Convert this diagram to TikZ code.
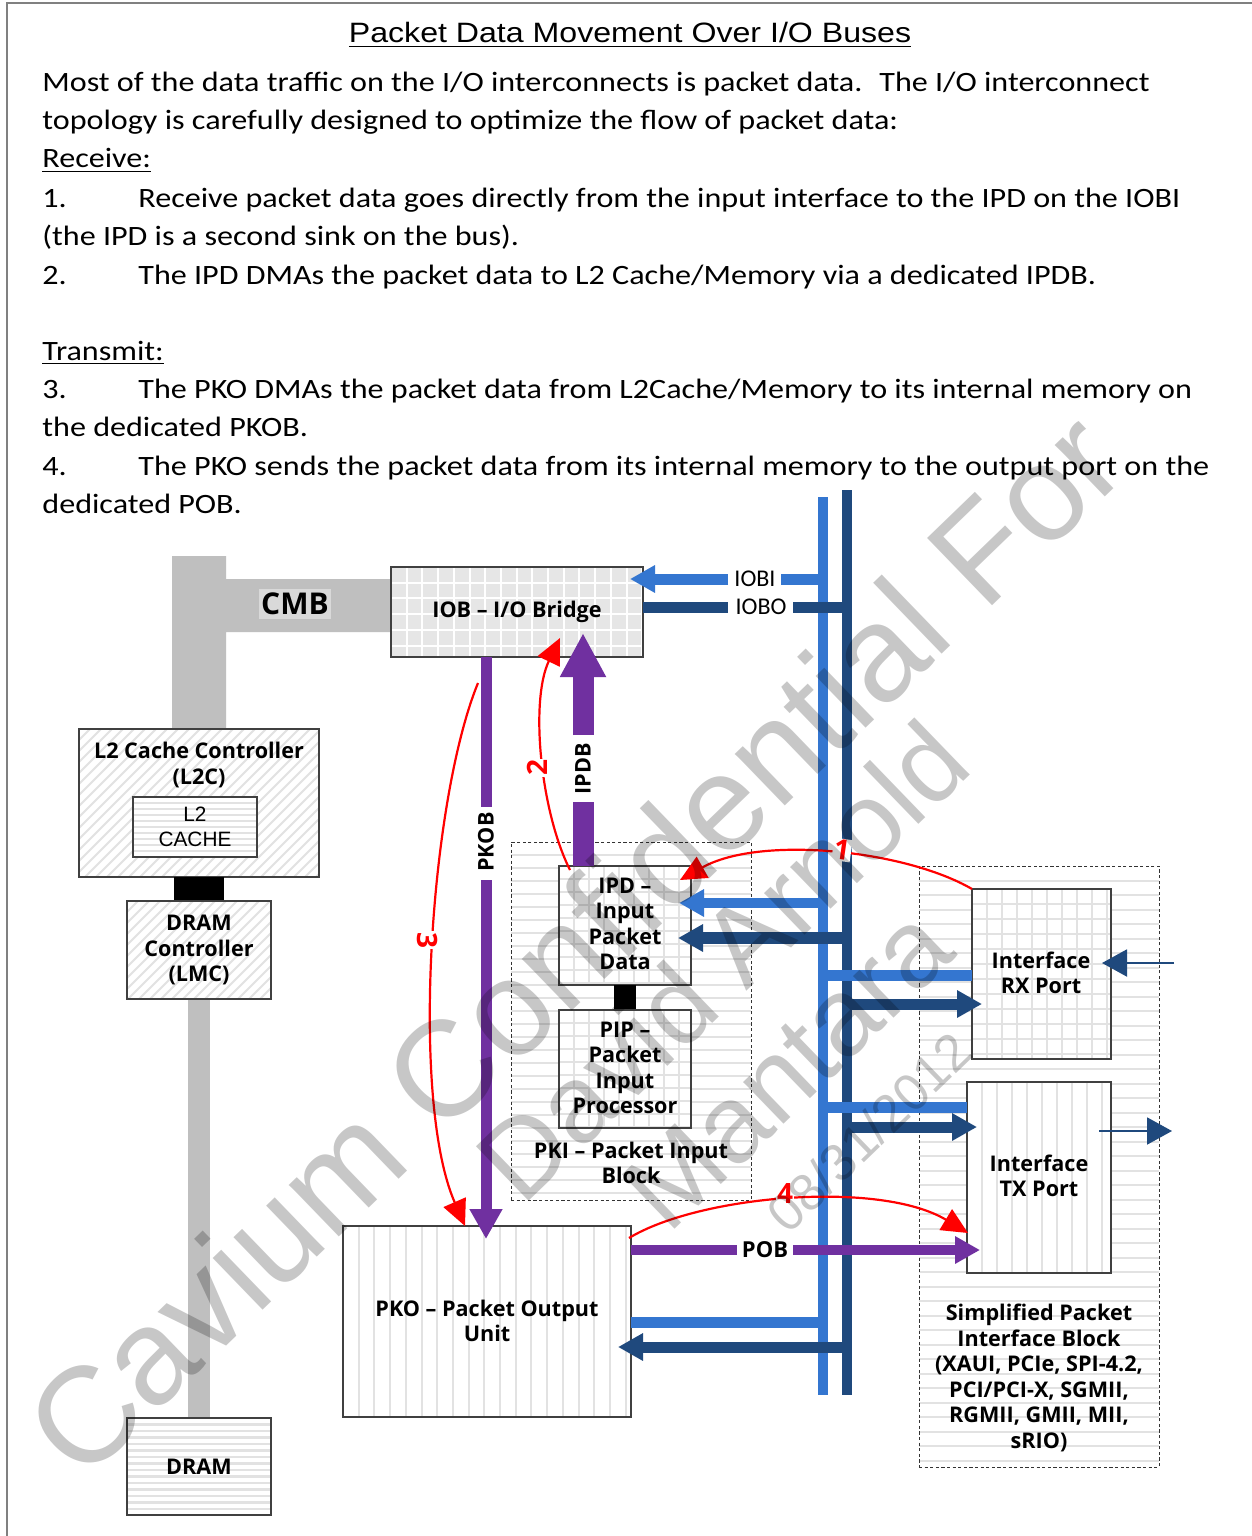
\documentclass[tikz,border=0pt]{standalone}
\usepackage{graphicx}
\usepackage{fontspec}
\setmainfont{Carlito}
\newfontfamily\arialf{Liberation Sans}
\newfontfamily\lucf{Open Sans}
\usetikzlibrary{arrows.meta}
\definecolor{lblue}{HTML}{3476D0}
\definecolor{dblue}{HTML}{1F497D}
\definecolor{pur}{HTML}{7030A0}
\definecolor{cmbgray}{HTML}{BFBFBF}
\definecolor{patgray}{HTML}{E2E2E2}
\definecolor{gridbg}{HTML}{E6E6E6}
\definecolor{framegray}{HTML}{808080}
\definecolor{cmblbl}{HTML}{D9D9D9}

% horizontal / vertical / diagonal pattern lines: x1,y1,x2,y2,step,style
\newcommand{\HL}[6]{\begin{scope}\clip (#1,#2) rectangle (#3,#4);
  \pgfmathtruncatemacro\nn{(#4-#2)/#5}
  \foreach \k in {1,...,\nn}{\draw[#6] (#1,{#2+\k*#5}) -- (#3,{#2+\k*#5});}\end{scope}}
\newcommand{\VL}[6]{\begin{scope}\clip (#1,#2) rectangle (#3,#4);
  \pgfmathtruncatemacro\nn{(#3-#1)/#5}
  \foreach \k in {1,...,\nn}{\draw[#6] ({#1+\k*#5},#2) -- ({#1+\k*#5},#4);}\end{scope}}
\newcommand{\DL}[6]{\begin{scope}\clip (#1,#2) rectangle (#3,#4);
  \pgfmathtruncatemacro\nn{(#3-#1+#4-#2)/#5}
  \foreach \k in {0,...,\nn}{\draw[#6] ({#1-(#4-#2)+\k*#5},#4) -- ({#1+\k*#5},#2);}\end{scope}}
% box node: name,x1,y1,x2,y2,style
\newcommand{\mkbox}[6]{\node[box,#6,minimum width={(#4-#2)*0.5pt},minimum height={(#5-#3)*0.5pt}] (#1) at ({(#2+#4)/2},{(#3+#5)/2}) {};}
% horizontally stretched body text
\newcommand{\bt}[1]{\scalebox{1.147}[1]{#1}}

\begin{document}
\begin{tikzpicture}[x=0.5pt,y=-0.5pt,
  body/.style={anchor=base west,inner sep=0pt,font=\fontsize{14}{17}\selectfont},
  lbl/.style={font=\lucf\bfseries\fontsize{10.8}{12.75}\selectfont,align=center,inner sep=0pt},
  box/.style={draw=black!75,line width=0.6pt,inner sep=0pt,outer sep=0pt},
  pat/.style={draw=patgray,line width=1pt},
  patd/.style={draw=patgray,line width=1.2pt},
  patw/.style={draw=white,line width=1pt},
  thk/.style={line width=5.5pt},
  bhead/.style={-{Triangle[length=12.5pt,width=13pt]}},
  redc/.style={draw=red,line width=1.1pt,-{Triangle[length=13pt,width=12pt]}},
  num/.style={text=red,font=\lucf\bfseries\fontsize{14}{14}\selectfont,inner sep=0.6pt,fill=white},
  wm/.style={text=black,text opacity=0.22,inner sep=0pt,anchor=base west,rotate=44}
]
\useasboundingbox (0,0) rectangle (1252,1536);
\fill[white] (0,0) rectangle (1252,1536);
\draw[framegray,line width=1pt] (7,1536) -- (7,3) -- (1252,3);

% ---------- text ----------
\node[anchor=base,inner sep=0pt,font=\arialf\fontsize{14}{17}\selectfont] (title) at (630,43) {\bt{\underline{Packet Data Movement Over I/O Buses}}};
\node[body] (t1) at (42,92) {\bt{Most of the data traffic on the I/O interconnects is packet data.~ The I/O interconnect}};
\node[body] (t2) at (42,130) {\bt{topology is carefully designed to optimize the flow of packet data:}};
\node[body] (t3) at (42,168) {\bt{\underline{Receive:}}};
\node[body] (n1) at (42,207) {\bt{1.}};
\node[body] (t4) at (138,207) {\bt{Receive packet data goes directly from the input interface to the IPD on the IOBI}};
\node[body] (t5) at (42,245) {\bt{(the IPD is a second sink on the bus).}};
\node[body] (n2) at (42,284) {\bt{2.}};
\node[body] (t6) at (138,284) {\bt{The IPD DMAs the packet data to L2 Cache/Memory via a dedicated IPDB.}};
\node[body] (t7) at (42,360) {\bt{\underline{Transmit:}}};
\node[body] (n3) at (42,398) {\bt{3.}};
\node[body] (t8) at (138,398) {\bt{The PKO DMAs the packet data from L2Cache/Memory to its internal memory on}};
\node[body] (t9) at (42,436) {\bt{the dedicated PKOB.}};
\node[body] (n4) at (42,475) {\bt{4.}};
\node[body] (t10) at (138,475) {\bt{The PKO sends the packet data from its internal memory to the output port on the}};
\node[body] (t11) at (42,513) {\bt{dedicated POB.}};

% ---------- gray buses ----------
\fill[cmbgray] (172,556) -- (226,556) -- (226,579) -- (391,579) -- (391,632) -- (226,632) -- (226,729) -- (172,729) -- cycle;
\fill[cmbgray] (188,999) rectangle (210,1418);

% ---------- dashed blocks ----------
\fill[white] (511,842) rectangle (751,1200);
\HL{511}{842}{751}{1200}{13}{pat}
\mkbox{pki}{511}{842}{751}{1200}{dash pattern=on 1.6pt off 1.2pt,draw=black!80,line width=0.5pt}
\fill[white] (919,866) rectangle (1159,1467);
\HL{919}{866}{1159}{1467}{14.5}{pat}
\mkbox{spib}{919}{866}{1159}{1467}{dash pattern=on 1.6pt off 1.2pt,draw=black!80,line width=0.5pt}

% ---------- boxes ----------
\fill[white] (79,729) rectangle (319,877);
\DL{79}{729}{319}{877}{11}{pat}
\mkbox{l2c}{79}{729}{319}{877}{}
\fill[white] (133,797) rectangle (257,857);
\HL{133}{797}{257}{857}{6}{patd}
\mkbox{l2cache}{133}{797}{257}{857}{}
\fill[black] (174,877) rectangle (224,901);
\fill[white] (127,901) rectangle (271,999);
\DL{127}{901}{271}{999}{11}{pat}
\mkbox{lmc}{127}{901}{271}{999}{}
\fill[white] (127,1418) rectangle (271,1515);
\HL{127}{1418}{271}{1515}{6.5}{patd}
\mkbox{dram}{127}{1418}{271}{1515}{}

\fill[gridbg] (391,567) rectangle (643,657);
\HL{391}{567}{643}{657}{15.7}{patw}
\VL{391}{567}{643}{657}{15.7}{patw}
\mkbox{iob}{391}{567}{643}{657}{}

\fill[white] (559,866) rectangle (691,985);
\HL{559}{866}{691}{985}{13}{pat}
\VL{559}{866}{691}{985}{15}{pat}
\mkbox{ipd}{559}{866}{691}{985}{}
\fill[black] (614,985) rectangle (636,1010);
\fill[white] (559,1010) rectangle (691,1128);
\HL{559}{1010}{691}{1128}{13}{pat}
\VL{559}{1010}{691}{1128}{15}{pat}
\mkbox{pip}{559}{1010}{691}{1128}{}

\fill[white] (343,1226) rectangle (631,1417);
\VL{343}{1226}{631}{1417}{15.7}{pat}
\mkbox{pko}{343}{1226}{631}{1417}{}

\fill[white] (972,889) rectangle (1111,1059);
\HL{972}{889}{1111}{1059}{15}{pat}
\VL{972}{889}{1111}{1059}{15}{pat}
\mkbox{rx}{972}{889}{1111}{1059}{}
\fill[white] (967,1082) rectangle (1111,1273);
\VL{967}{1082}{1111}{1273}{15}{pat}
\mkbox{tx}{967}{1082}{1111}{1273}{}

% ---------- box labels ----------
\node[lbl] (l2ct) at (199,765) {L2 Cache Controller\\(L2C)};
\node[align=center,inner sep=0pt,font=\arialf\fontsize{10.4}{12.5}\selectfont] (l2cachet) at (l2cache) {L2\\CACHE};
\node[lbl] (lmct) at (lmc) {DRAM\\Controller\\(LMC)};
\node[lbl] (dramt) at (dram) {DRAM};
\node[lbl] (iobt) at (517,612) {IOB – I/O Bridge};
\node[lbl] (ipdt) at (625,924) {IPD –\\Input\\Packet\\Data};
\node[lbl] (pipt) at (625,1068) {PIP –\\Packet\\Input\\Processor};
\node[lbl] (pkit) at (631,1163) {PKI – Packet Input\\Block};
\node[lbl] (pkot) at (487,1321) {PKO – Packet Output\\Unit};
\node[lbl] (rxt) at (1041,973) {Interface\\RX Port};
\node[lbl] (txt) at (1039,1176) {Interface\\TX Port};
\node[lbl] (spibt) at (1039,1378) {Simplified Packet\\Interface Block\\(XAUI, PCIe, SPI-4.2,\\PCI/PCI-X, SGMII,\\RGMII, GMII, MII,\\sRIO)};
\node[fill=cmblbl,inner xsep=1pt,inner ysep=2pt,font=\lucf\bfseries\fontsize{15}{15}\selectfont] (cmb) at (295,604) {CMB};

% ---------- I/O buses ----------
\coordinate (lbT) at (823,497); \coordinate (lbB) at (823,1395);
\coordinate (dbT) at (847,490); \coordinate (dbB) at (847,1395);
\draw[lblue,line width=5pt] (lbT) -- (lbB);
\draw[dblue,line width=5pt] (dbT) -- (dbB);

% IOBI / IOBO
\node[inner sep=0pt,font=\fontsize{12}{12}\selectfont] (iobi) at (755,579) {IOBI};
\node[inner sep=0pt,font=\fontsize{12}{12}\selectfont] (iobo) at (761,607) {IOBO};
\draw[lblue,thk] (lbT |- iobi) -- (781,579);
\draw[lblue,thk,bhead] (728,579) -- ([xshift=-6.5pt]iob.east |- iobi);
\draw[dblue,thk] (iob.east |- iobo) -- (728,607);
\draw[dblue,thk] (793,607) -- (dbT |- iobo);

% IPD inputs
\draw[lblue,line width=5pt,bhead] (823,903) -- (679,903);
\draw[dblue,line width=6pt,bhead] (847,938) -- (678,938);
% RX
\draw[lblue,thk] (823,975) -- (rx.west |- 0,975);
\draw[dblue,thk,bhead] (847,1004) -- (982,1004);
% TX
\draw[lblue,thk] (823,1107) -- (tx.west |- 0,1107);
\draw[dblue,thk,bhead] (847,1127) -- (977,1127);
% PKO
\draw[lblue,thk] (pko.east |- 0,1322) -- (823,1322);
\draw[dblue,thk,bhead] (847,1347) -- (618,1347);

% POB
\node[lbl,font=\lucf\bfseries\fontsize{11}{11}\selectfont] (pob) at (765,1250) {POB};
\draw[pur,line width=5pt] (pko.east |- pob) -- (737,1250);
\draw[pur,line width=5pt,bhead] (793,1250) -- (980,1250);

% PKOB
\node[lbl,rotate=90] (pkob) at (486,842) {PKOB};
\draw[pur,thk] (iob.south -| pkob) -- (486,807);
\draw[pur,thk,-{Triangle[length=15pt,width=15.5pt]}] (486,880) -- (486,1239);
% IPDB
\node[lbl,rotate=90] (ipdb) at (583,769) {IPDB};
\draw[pur,line width=10.5pt] (ipd.north -| ipdb) -- (583,802);
\draw[pur,line width=10.5pt,-{Triangle[length=22pt,width=21.5pt]}] (583,735) -- (583,633);

% external arrows
\draw[dblue,line width=1pt,-{Triangle[length=12.5pt,width=13.5pt]}] (1174,963) -- (1102,963);
\draw[dblue,line width=1pt,-{Triangle[length=12.5pt,width=13.5pt]}] (1099,1131) -- (1172,1131);

% ---------- red flow curves ----------
\draw[redc] (rx.north west) .. controls (905,850) and (760,835) .. (680,880);
\draw[redc] (570,870) .. controls (540,810) and (530,700) .. (560,638);
\draw[redc] (478,683) .. controls (430,800) and (410,1100) .. (465,1226);
\draw[redc] (629,1238) .. controls (700,1195) and (880,1180) .. (968,1233);
\node[num,rotate=-8] (r1) at (842,850) {1};
\node[num,rotate=90] (r2) at (537,768) {2};
\node[num,rotate=-90] (r3) at (427,940) {3};
\node[num] (r4) at (785,1193) {4};

% ---------- watermark ----------
\node[wm,font=\arialf\fontsize{68}{68}\selectfont] (wm1) at (82,1485) {Cavium Confidential For};
\node[wm,font=\arialf\fontsize{55}{55}\selectfont] (wm2) at (522,1208) {David Arnold};
\node[wm,font=\arialf\fontsize{55}{55}\selectfont] (wm3) at (668,1236) {Mantara};
\node[wm,font=\arialf\fontsize{26}{26}\selectfont] (wm4) at (788,1236) {08/31/2012};
\end{tikzpicture}
\end{document}
